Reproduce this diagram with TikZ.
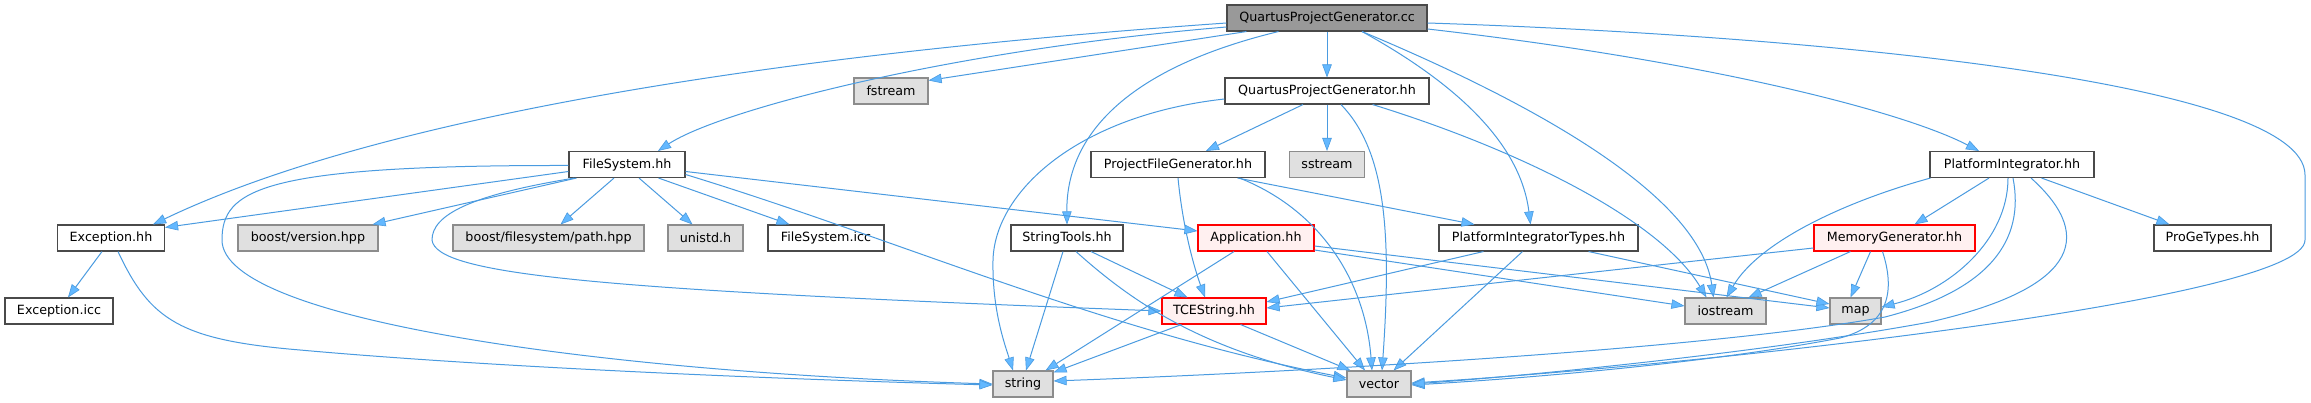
\documentclass[tikz,border=0pt]{standalone}
\usepackage{fontspec}
\setmainfont{DejaVu Sans}
\usetikzlibrary{arrows.meta,calc}
\definecolor{edgecol}{HTML}{4A9BE0}
\definecolor{arrowcol}{HTML}{63B8FF}
\definecolor{boxline}{HTML}{4A4A4A}
\definecolor{greyfill}{HTML}{E0E0E0}
\definecolor{greyline}{HTML}{8C8C8C}
\definecolor{rootfill}{HTML}{999999}
\definecolor{redfill}{HTML}{FFF0F0}
\begin{document}
\begin{tikzpicture}[x=1pt,y=-1pt,
  box/.style={draw=boxline, fill=white, line width=1.1pt, minimum height=26pt, inner sep=0pt, font=\fontsize{12.7}{15}\selectfont},
  sysbox/.style={box, draw=greyline, fill=greyfill},
  rootbox/.style={box, fill=rootfill},
  redbox/.style={box, draw=red, fill=redfill},
  edge/.style={draw=edgecol, line width=1pt, -{Triangle[length=13pt,width=9.5pt,fill=arrowcol,line width=0.6pt]}}
]
\useasboundingbox (0,0) rectangle (2311,403);
\fill[white] (0,0) rectangle (2311,403);

% nodes
\node[rootbox, minimum width=200pt] (qcc) at (1327,18) {QuartusProjectGenerator.cc};
\node[sysbox, minimum width=74pt] (fstream) at (891,91) {fstream};
\node[box, minimum width=204pt] (qhh) at (1327,91) {QuartusProjectGenerator.hh};
\node[box, minimum width=116pt] (fs) at (627,164.5) {FileSystem.hh};
\node[box, minimum width=174pt] (pfg) at (1178,164.5) {ProjectFileGenerator.hh};
\node[sysbox, minimum width=75pt] (sstream) at (1327,164.5) {sstream};
\node[box, minimum width=164pt] (pi) at (2012,164.5) {PlatformIntegrator.hh};
\node[box, minimum width=107pt] (exc) at (111,238) {Exception.hh};
\node[sysbox, minimum width=140pt] (bver) at (308,238) {boost/version.hpp};
\node[sysbox, minimum width=191pt] (bpath) at (548.5,238) {boost/filesystem/path.hpp};
\node[sysbox, minimum width=75pt] (unistd) at (705.5,238) {unistd.h};
\node[box, minimum width=116pt] (fsicc) at (826,238) {FileSystem.icc};
\node[box, minimum width=112pt] (st) at (1067,238) {StringTools.hh};
\node[redbox, minimum width=116pt] (app) at (1256,238) {Application.hh};
\node[box, minimum width=199pt] (pit) at (1538.5,238) {PlatformIntegratorTypes.hh};
\node[redbox, minimum width=161pt] (mg) at (1894.5,238) {MemoryGenerator.hh};
\node[box, minimum width=117pt] (pgt) at (2212.5,238) {ProGeTypes.hh};
\node[box, minimum width=108pt] (eicc) at (59,311) {Exception.icc};
\node[redbox, minimum width=104pt] (tce) at (1214,311) {TCEString.hh};
\node[sysbox, minimum width=81pt] (ios) at (1725.5,311) {iostream};
\node[sysbox, minimum width=51pt] (map) at (1855.5,311) {map};
\node[sysbox, minimum width=60pt] (str) at (1023,384) {string};
\node[sysbox, minimum width=64pt] (vec) at (1379,384) {vector};

% QuartusProjectGenerator.cc
\draw[edge] ($(qcc.south west)+(20,0)$) -- ($(fstream.north east)+(0,3)$);
\draw[edge] (qcc.south) -- (qhh.north);
\draw[edge] ($(qcc.west)+(0,9)$) .. controls (950,50) and (720,110) .. ($(fs.north)+(31,0)$);
\draw[edge] ($(qcc.west)+(0,5)$) .. controls (700,60) and (350,130) .. ($(exc.north east)+(-12,0)$);
\draw[edge] ($(qcc.south west)+(52,0)$) .. controls (1120,70) and (1066,140) .. (st.north);
\draw[edge] ($(qcc.south)+(35,0)$) .. controls (1450,80) and (1520,140) .. ($(pit.north)+(-8,0)$);
\draw[edge] ($(qcc.south)+(35,0)$) .. controls (1550,110) and (1700,200) .. ($(ios.north)+(-12,0)$);
\draw[edge] ($(qcc.east)+(0,11)$) .. controls (1700,60) and (1900,110) .. ($(pi.north)+(-33,0)$);
\draw[edge] ($(qcc.east)+(0,5)$) .. controls (1800,35) and (2305,80) .. (2305,175) -- (2305,240)
   .. controls (2305,300) and (1700,365) .. ($(vec.east)+(0,-1)$);

% QuartusProjectGenerator.hh
\draw[edge] ($(qhh.west)+(0,8)$) .. controls (1080,115) and (995,190) .. (993,260)
   .. controls (992,310) and (1005,345) .. ($(str.north)+(-10,0)$);
\draw[edge] ($(qhh.south)+(-24,0)$) -- ($(pfg.north)+(28,0)$);
\draw[edge] (qhh.south) -- (sstream.north);
\draw[edge] ($(qhh.south)+(14,0)$) .. controls (1385,150) and (1392,230) .. ($(vec.north)+(3,0)$);
\draw[edge] ($(qhh.south east)+(-57,0)$) .. controls (1520,150) and (1660,220) .. ($(ios.north)+(-19,0)$);

% ProjectFileGenerator.hh
\draw[edge] (pfg.south) .. controls (1183,230) and (1195,270) .. ($(tce.north)+(-9,0)$);
\draw[edge] ($(pfg.south east)+(-26,0)$) .. controls (1320,210) and (1365,280) .. ($(vec.north)+(-7,0)$);
\draw[edge] ($(pfg.south east)+(-28,0)$) -- ($(pit.north west)+(36,0)$);

% FileSystem.hh
\draw[edge] ($(fs.west)+(0,7)$) -- ($(exc.north east)+(0,3)$);
\draw[edge] ($(fs.west)+(0,1)$) .. controls (260,165) and (222,190) .. (222,240)
   .. controls (222,320) and (600,372) .. (str.west);
\draw[edge] ($(fs.south west)+(6,0)$) .. controls (470,195) and (432,215) .. (432,240)
   .. controls (436,275) and (600,290) .. (tce.west);
\draw[edge] ($(fs.south west)+(8,0)$) -- ($(bver.north east)+(-6,0)$);
\draw[edge] ($(fs.south)+(-13,0)$) -- ($(bpath.north)+(12,0)$);
\draw[edge] ($(fs.south)+(12,0)$) -- ($(unistd.north)+(-13,0)$);
\draw[edge] ($(fs.south east)+(-27,0)$) -- ($(fsicc.north west)+(22,0)$);
\draw[edge] ($(fs.east)+(0,7)$) -- ($(app.west)+(0,-7)$);
\draw[edge] ($(fs.east)+(0,10)$) .. controls (900,240) and (1100,330) .. ($(vec.west)+(0,-6)$);

% Exception.hh
\draw[edge] ($(exc.south)+(-9,0)$) -- ($(eicc.north)+(9,0)$);
\draw[edge] ($(exc.south)+(7,0)$) .. controls (150,320) and (180,340) .. (300,350)
   .. controls (500,368) and (800,380) .. ($(str.west)+(0,1)$);

% StringTools.hh
\draw[edge] ($(st.south)+(-4,0)$) -- ($(str.north)+(3,0)$);
\draw[edge] ($(st.south)+(24,0)$) -- ($(tce.north west)+(26,0)$);
\draw[edge] ($(st.south)+(9,0)$) .. controls (1130,300) and (1200,350) .. ($(vec.west)+(0,-4)$);

% Application.hh
\draw[edge] ($(app.south)+(-22,0)$) -- ($(str.north east)+(-8,0)$);
\draw[edge] ($(app.south)+(11,0)$) -- ($(vec.north)+(-14,0)$);
\draw[edge] ($(app.east)+(0,12)$) -- ($(ios.west)+(0,-5)$);
\draw[edge] ($(app.east)+(0,8)$) -- ($(map.west)+(0,-3)$);

% PlatformIntegratorTypes.hh
\draw[edge] ($(pit.south west)+(45,0)$) -- ($(tce.east)+(0,-9)$);
\draw[edge] ($(pit.south)+(-16,0)$) -- ($(vec.north east)+(-18,0)$);
\draw[edge] ($(pit.south east)+(-50,0)$) -- ($(map.west)+(0,-7)$);

% MemoryGenerator.hh
\draw[edge] ($(mg.west)+(0,10)$) -- ($(tce.east)+(0,-3)$);
\draw[edge] ($(mg.south)+(-44,0)$) -- ($(ios.north east)+(-18,0)$);
\draw[edge] ($(mg.south)+(-24,0)$) -- ($(map.north)+(-5,0)$);
\draw[edge] ($(mg.south)+(-12,0)$) .. controls (1895,290) and (1890,325) .. (1840,338)
   .. controls (1700,365) and (1500,380) .. ($(vec.east)+(0,1)$);

% PlatformIntegrator.hh
\draw[edge] ($(pi.south west)+(1,0)$) .. controls (1850,200) and (1760,240) .. ($(ios.north)+(1,0)$);
\draw[edge] ($(pi.south)+(-23,0)$) -- ($(mg.north)+(20,0)$);
\draw[edge] ($(pi.south)+(-4,0)$) .. controls (2008,240) and (1950,290) .. ($(map.east)+(0,-4)$);
\draw[edge] ($(pi.south)+(1,0)$) .. controls (2025,240) and (1990,290) .. (1885,317)
   .. controls (1700,350) and (1300,372) .. ($(str.east)+(0,-3)$);
\draw[edge] ($(pi.south)+(19,0)$) .. controls (2100,240) and (2070,290) .. (1930,322)
   .. controls (1750,355) and (1500,378) .. (vec.east);
\draw[edge] ($(pi.south east)+(-53,0)$) -- ($(pgt.north west)+(16,0)$);

% TCEString.hh
\draw[edge] ($(tce.south west)+(20,0)$) -- ($(str.north east)+(0,2)$);
\draw[edge] ($(tce.south east)+(-26,0)$) -- ($(vec.north west)+(4,0)$);
\end{tikzpicture}
\end{document}
